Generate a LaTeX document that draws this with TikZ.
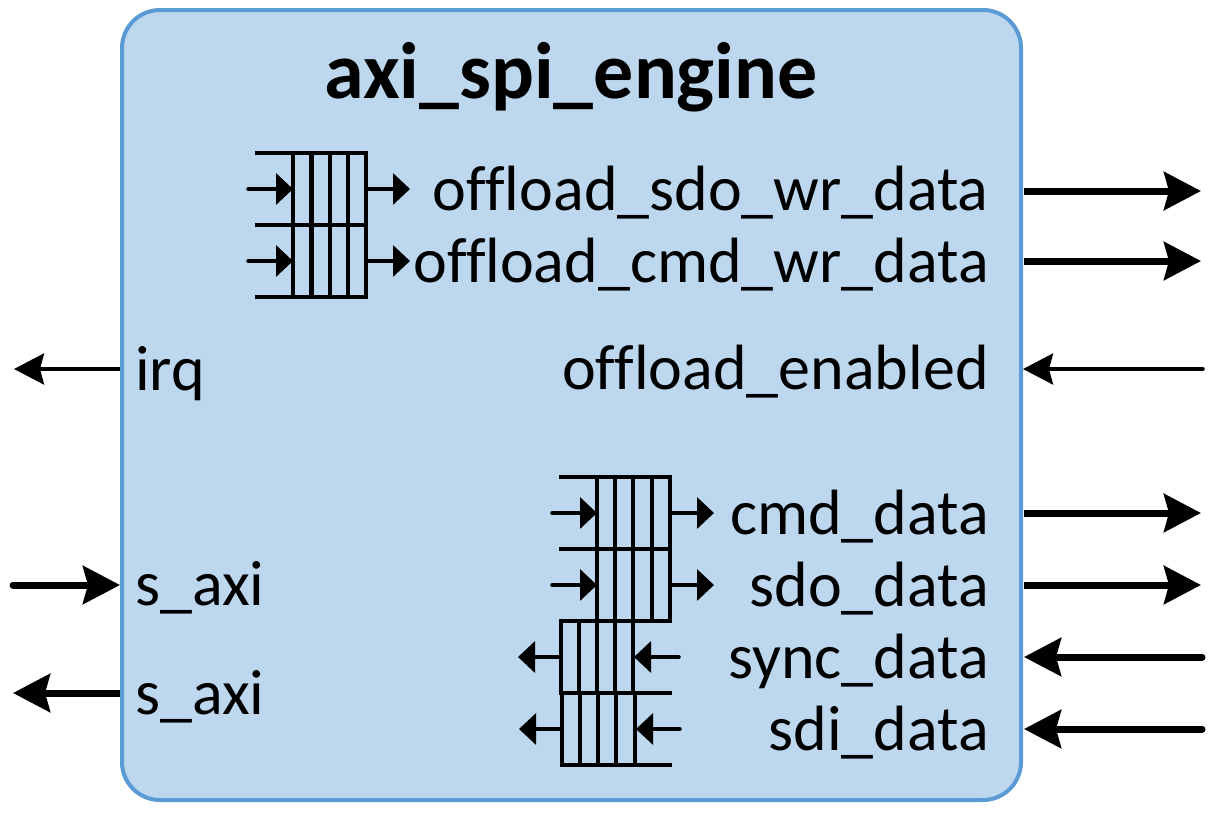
\documentclass[tikz,border=0pt]{standalone}
\usepackage{fontspec}
\setmainfont[Ligatures=CommonOff]{Carlito}
\usetikzlibrary{arrows.meta}
\definecolor{blockfill}{HTML}{BDD7EE}
\definecolor{blockedge}{HTML}{5B9BD5}
\tikzset{
  blockbox/.style={draw=blockedge,fill=blockfill,line width=4pt,rounded corners=38pt,minimum width=899pt,minimum height=790pt,inner sep=0pt},
  title/.style={font=\fontsize{80}{80}\selectfont\bfseries,inner sep=0pt,anchor=base},
  sig/.style={font=\fontsize{64}{64}\selectfont,inner sep=0pt,anchor=base east},
  sigl/.style={font=\fontsize{64}{64}\selectfont,inner sep=0pt,anchor=base west},
  busarrow/.style={line width=7pt,line cap=round,-{Stealth[length=37pt,width=38pt,inset=5pt]}},
  wirearrow/.style={line width=3.5pt,line cap=round,-{Stealth[length=30pt,width=31pt,inset=4pt]}},
  fifoarrow/.style={line width=3.5pt,line cap=round,-{Triangle[length=17pt,width=31pt]}},
  fifoline/.style={line width=4.5pt,draw=black,line cap=rect},
}
\newcommand{\fifocolumns}[3]{% x-list, y-top, y-bottom
  \foreach \xx in {#1}{\draw[fifoline] (\xx,#2) -- (\xx,#3);}
}
\begin{document}
\begin{tikzpicture}[x=1pt,y=-1pt]
\useasboundingbox (0,0) rectangle (1231,815);
\node[blockbox] (block) at (571.5,405) {};
\node[title] (name) at (571,98) {axi\_spi\_engine};

% top FIFOs
\fifocolumns{293,311.5,330,348,366}{153}{297}
\draw[fifoline] (257,153) -- (366,153);
\draw[fifoline] (257,225) -- (366,225);
\draw[fifoline] (257,297) -- (366,297);
% bottom FIFOs
\fifocolumns{597,615,633,652,670}{477}{621}
\draw[fifoline] (561,477) -- (670,477);
\draw[fifoline] (561,549) -- (670,549);
\fifocolumns{561,579,597,615,633}{621}{693}
\fifocolumns{562,580,598,616,635}{693}{765}
\draw[fifoline] (561,621) -- (670,621);
\draw[fifoline] (561,693) -- (670,693);
\draw[fifoline] (562,765) -- (670,765);

% labels
\node[sig] (l1) at (989,210) {offload\_sdo\_wr\_data};
\node[sig] (l2) at (989,282) {offload\_cmd\_wr\_data};
\node[sig] (l3) at (989,389) {offload\_enabled};
\node[sig] (l4) at (989,534) {cmd\_data};
\node[sig] (l5) at (989,606) {sdo\_data};
\node[sig] (l6) at (989,678) {sync\_data};
\node[sig] (l7) at (989,750) {sdi\_data};
\node[sigl] (l8) at (135,390) {irq};
\node[sigl] (l9) at (135,605) {s\_axi};
\node[sigl] (l10) at (135,714) {s\_axi};

% end points
\foreach \n/\x/\y in {a1/248/189,a2/293/189,a3/366/189,a4/410/189,
  b1/248/261,b2/293/261,b3/366/261,b4/410/261,
  c1/552/513,c2/597/513,c3/670/513,c4/714/513,
  d1/552/585,d2/597/585,d3/670/585,d4/714/585,
  e1/679/657,e2/634/657,e3/561/657,e4/518/657,
  f1/680/729,f2/636/729,f3/562/729,f4/519/729,
  x1/1024/191,x2/1201/191,y1/1024/261,y2/1201/261,
  z1/1203/369,z2/1023/369,
  u1/1024/513,u2/1201/513,v1/1024/585,v2/1201/585,
  w1/1202/657,w2/1024/657,t1/1202/729,t2/1024/729,
  i1/120/369,i2/14/369,
  s1/13/585,s2/120/585,r1/120/693,r2/13/693}
  {\coordinate (\n) at (\x,\y);}

\draw[fifoarrow] (a1) -- (a2);
\draw[fifoarrow] (a3) -- (a4);
\draw[fifoarrow] (b1) -- (b2);
\draw[fifoarrow] (b3) -- (b4);
\draw[fifoarrow] (c1) -- (c2);
\draw[fifoarrow] (c3) -- (c4);
\draw[fifoarrow] (d1) -- (d2);
\draw[fifoarrow] (d3) -- (d4);
\draw[fifoarrow] (e1) -- (e2);
\draw[fifoarrow] (e3) -- (e4);
\draw[fifoarrow] (f1) -- (f2);
\draw[fifoarrow] (f3) -- (f4);

\draw[busarrow,line cap=butt] (x1) -- (x2);
\draw[busarrow,line cap=butt] (y1) -- (y2);
\draw[wirearrow] (z1) -- (z2);
\draw[busarrow,line cap=butt] (u1) -- (u2);
\draw[busarrow,line cap=butt] (v1) -- (v2);
\draw[busarrow] (w1) -- (w2);
\draw[busarrow] (t1) -- (t2);
\draw[wirearrow,line cap=butt] (i1) -- (i2);
\draw[busarrow] (s1) -- (s2);
\draw[busarrow,line cap=butt] (r1) -- (r2);
\end{tikzpicture}
\end{document}
